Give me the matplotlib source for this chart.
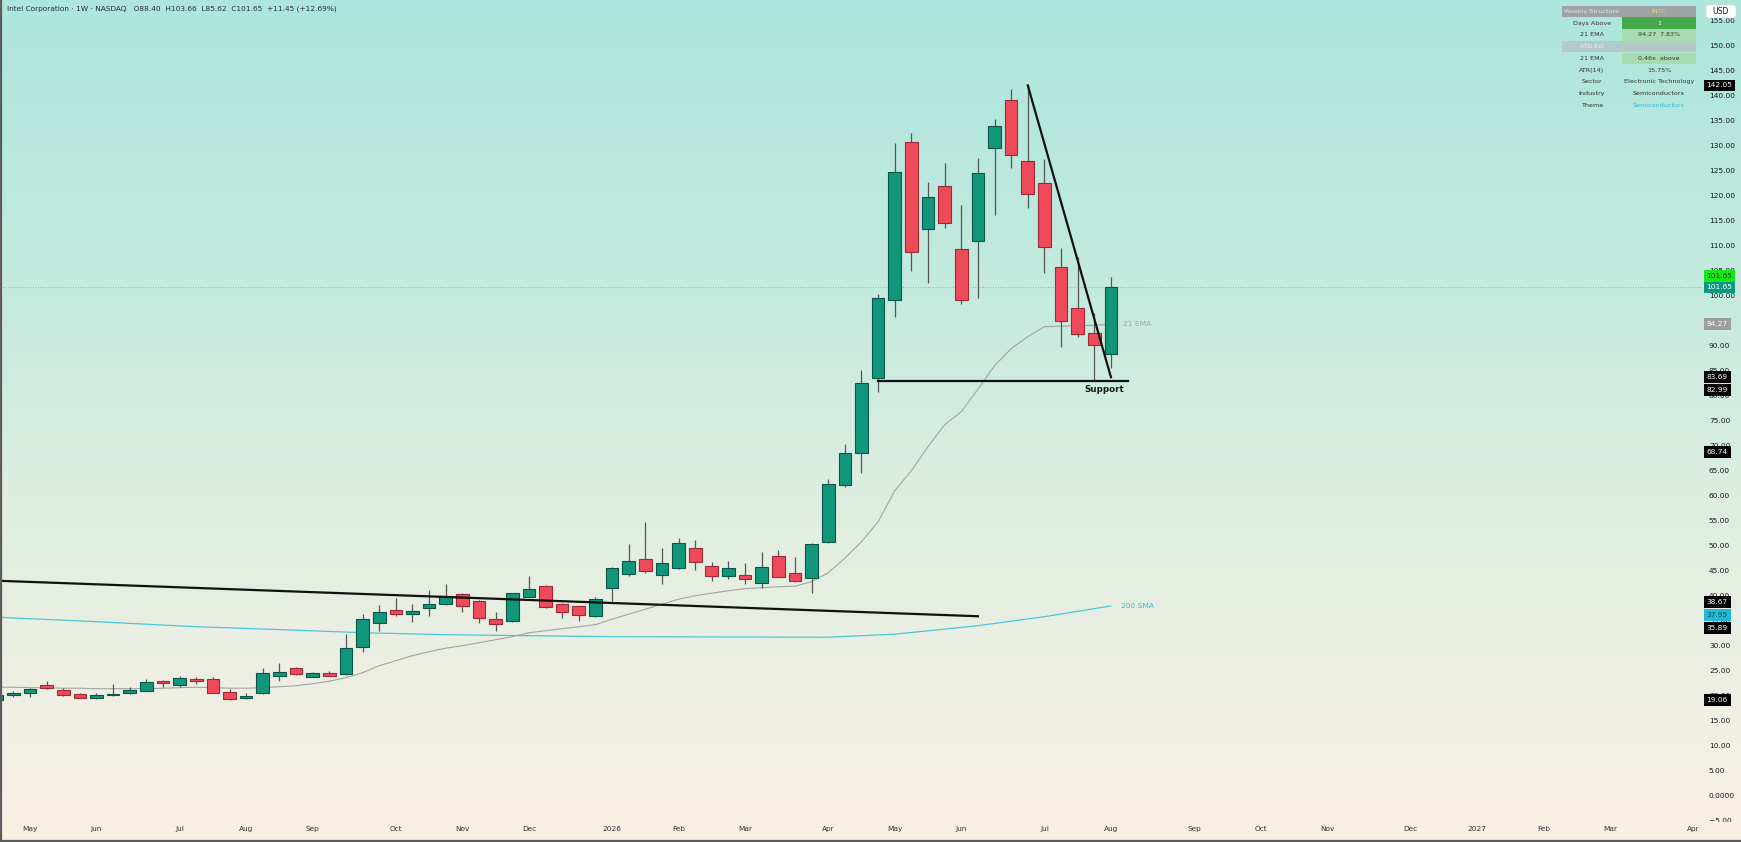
import numpy as np
import pandas as pd
import matplotlib
matplotlib.use('Agg')
import matplotlib.pyplot as plt
from matplotlib.patches import Rectangle, FancyBboxPatch
from matplotlib.transforms import Bbox, TransformedBbox, blended_transform_factory

plt.rcParams['font.family'] = ['DejaVu Sans']

W, H = 1741, 842

# ---- data (weekly candles, first bar = week of 2025-04-21) ----
first_week = '2025-04-21'
opens = [19.1, 20.1, 20.5, 22.1, 21.1, 20.4, 19.5, 20.2, 20.5, 21.0, 23.0, 22.1, 23.3, 23.3, 20.8, 19.5,
         20.5, 24.0, 25.5, 23.8, 24.5, 24.3, 29.7, 34.5, 37.1, 36.3, 37.5, 38.3, 40.3, 38.9, 35.4, 34.9,
         39.8, 41.9, 38.3, 37.9, 35.9, 41.6, 44.3, 47.3, 44.2, 45.5, 49.5, 45.9, 44.0, 44.1, 42.6, 47.9,
         44.5, 43.6, 50.8, 62.1, 68.5, 83.6, 99.1, 130.8, 113.3, 122.0, 109.3, 110.9, 129.5, 139.1,
         126.9, 122.5, 105.8, 97.5, 92.5, 88.40]
highs = [20.4, 21.0, 21.5, 22.9, 21.5, 20.6, 20.5, 22.3, 21.8, 23.3, 23.1, 23.9, 23.8, 23.8, 21.3, 20.5,
         25.5, 26.5, 25.7, 24.7, 24.9, 32.3, 36.3, 38.1, 39.5, 38.3, 41.1, 42.3, 40.5, 39.1, 36.7, 40.6,
         44.0, 42.1, 38.5, 38.0, 39.8, 45.7, 50.3, 54.7, 49.5, 51.5, 51.1, 46.7, 46.9, 46.5, 48.7, 49.1,
         47.8, 50.6, 63.3, 70.3, 85.1, 100.3, 130.5, 132.6, 122.7, 126.6, 118.1, 127.5, 135.3, 141.3,
         142.05, 127.3, 109.5, 107.8, 96.5, 103.66]
lows = [18.9, 19.7, 19.8, 21.4, 20.0, 19.5, 19.4, 20.0, 20.4, 20.9, 21.7, 21.8, 22.3, 20.5, 19.1, 19.4,
        20.4, 22.9, 24.1, 23.7, 23.9, 24.2, 28.8, 33.0, 36.0, 34.8, 36.0, 38.1, 36.7, 34.6, 33.0, 34.8,
        39.7, 37.6, 35.6, 35.0, 35.8, 39.0, 43.9, 44.5, 42.3, 45.4, 45.1, 42.9, 43.3, 42.3, 41.6, 43.7,
        42.8, 40.6, 50.5, 61.8, 64.6, 80.8, 95.7, 105.0, 102.5, 113.6, 98.3, 99.5, 116.1, 125.5,
        117.6, 104.5, 89.7, 91.7, 83.2, 85.62]
closes = [20.1, 20.6, 21.4, 21.6, 20.1, 19.6, 20.1, 20.3, 21.1, 22.7, 22.5, 23.5, 23.0, 20.6, 19.3, 19.9,
          24.5, 24.8, 24.3, 24.5, 24.0, 29.5, 35.3, 36.8, 36.3, 36.9, 38.3, 39.9, 38.0, 35.5, 34.4, 40.5,
          41.4, 37.8, 36.7, 36.1, 39.3, 45.5, 46.9, 45.0, 46.5, 50.5, 46.7, 44.0, 45.5, 43.3, 45.7, 43.8,
          43.0, 50.3, 62.3, 68.5, 82.5, 99.5, 124.7, 108.7, 119.8, 114.6, 99.1, 124.5, 133.9, 128.2,
          120.3, 109.8, 94.9, 92.3, 90.1, 101.65]
ema21 = [21.7, 21.7, 21.6, 21.6, 21.5, 21.5, 21.4, 21.4, 21.4, 21.4, 21.5, 21.6, 21.7, 21.6, 21.5, 21.5,
         21.6, 21.8, 22.0, 22.4, 22.9, 23.6, 24.6, 26.0, 27.0, 28.0,
         28.8, 29.5, 30.0, 30.6, 31.2, 31.8, 32.6, 33.0, 33.4, 33.8, 34.2, 35.3, 36.3, 37.3, 38.3, 39.3,
         40.0, 40.5, 41.0, 41.4, 41.6, 41.8, 41.9,
         42.8, 44.6, 47.5, 50.8, 54.8, 61.0, 65.0, 69.8, 74.2, 76.8, 81.3, 86.0, 89.4, 91.8, 93.8,
         93.9, 94.0, 94.1, 94.27]
sma_week = [0, 6, 12, 18, 22, 27, 37, 50, 54, 59, 63, 67]
sma200 = [35.7, 34.8, 33.8, 33.1, 32.6, 32.2, 31.8, 31.7, 32.3, 34.0, 35.8, 37.95]

resist_week = [0, 59]
resist_price = [43.0, 35.89]
fall_week = [62, 67]
fall_price = [142.05, 83.69]
support_week = [53, 68]
support_price = [82.99, 82.99]
last_price = 101.65

tag_values = [142.05, 101.65, 101.65, 94.27, 83.69, 82.99, 68.74, 38.67, 37.95, 35.89, 19.06]
tag_bg = ['#000000', '#19e619', '#089981', '#9e9e9e', '#000000', '#000000', '#000000',
          '#000000', '#22b8d8', '#000000', '#000000']
tag_fg = ['white', '#0b3d0b', 'white', 'white', 'white', 'white', 'white',
          'white', '#0b4655', 'white', 'white']
tag_shift = [0, 8.3, 0, 0, 0, -6.5, 0, 0, -6.5, -8.2, 0]

table_labels = ['Weekly Structure', 'Days Above', '21 EMA', 'ATR Ext', '21 EMA', 'ATR(14)',
                'Sector', 'Industry', 'Theme']
table_values = ['INTC', '1', '94.27  7.83%', '', '0.46x  above', '15.75%',
                'Electronic Technology', 'Semiconductors', 'Semiconductors']

title = 'Intel Corporation · 1W · NASDAQ   O88.40  H103.66  L85.62  C101.65  +11.45 (+12.69%)'

n = len(opens)
weeks = pd.date_range(first_week, periods=106, freq='7D')
idx = np.arange(n)
o = np.array(opens); c = np.array(closes); hi = np.array(highs); lo = np.array(lows)
up = c >= o

fig = plt.figure(figsize=(W / 100, H / 100), dpi=100)

# background gradient
bg = fig.add_axes([0, 0, 1, 1], zorder=-1)
stops = [0.0, 0.35, 0.62, 1.0]
cols = np.array([[172, 230, 220], [197, 234, 222], [224, 238, 225], [250, 240, 228]]) / 255
t = np.linspace(0, 1, 300)
grad = np.stack([np.interp(t, stops, cols[:, k]) for k in range(3)], axis=1)[:, None, :]
bg.imshow(grad, aspect='auto', extent=[0, 1, 0, 1], origin='upper')
bg.axis('off')

ax = fig.add_axes([0, 20 / H, 1702 / W, 822 / H])
ax.patch.set_alpha(0)
for s in ax.spines.values():
    s.set_visible(False)
ax.set_xlim(0.198, 102.54)
ax.set_ylim(-5.26, 159.14)

ax.axhline(last_price, color='#8a9e98', lw=0.6, ls=(0, (1, 2)), zorder=1)

# moving averages
ax.plot(idx, ema21, color='#a3a3a3', lw=0.8, zorder=2)
ax.plot(sma_week, sma200, color='#4cc6d8', lw=0.9, zorder=2)

# candles
ax.vlines(idx, lo, hi, color='#555555', lw=0.9, zorder=3)
body = np.maximum(np.abs(c - o), 0.12)
ax.bar(idx, body, bottom=np.minimum(o, c), width=0.76,
       color=np.where(up, '#12967a', '#ef4a5a'),
       edgecolor=np.where(up, '#0c5447', '#9c2a36'), linewidth=0.8, zorder=4)

# drawings
ax.plot(resist_week, resist_price, color='#111111', lw=1.6, zorder=5)
ax.plot(fall_week, fall_price, color='#111111', lw=1.6, zorder=5)
ax.plot(support_week, support_price, color='#111111', lw=1.6, zorder=5)
ax.text(66.6, 81.2, 'Support', ha='center', va='center', fontsize=6.3,
        fontweight='bold', color='#1a1a1a', zorder=6)
ax.text(67.7, ema21[-1], '21 EMA', ha='left', va='center', fontsize=5.4, color='#a0a8a6')
ax.text(67.6, sma200[-1], '200 SMA', ha='left', va='center', fontsize=5.4, color='#35bcd2')

# time axis
mt, ml = [], []
for i in range(1, len(weeks)):
    if weeks[i].month != weeks[i - 1].month:
        mt.append(i)
        ml.append(str(weeks[i].year) if weeks[i].month == 1 else weeks[i].strftime('%b'))
ax.set_xticks(mt, ml)
ax.tick_params(axis='x', length=0, pad=3.2, labelsize=5.3, labelcolor='#333333')

# price axis
ax.yaxis.tick_right()
yt = np.arange(0, 156, 5)
ax.set_yticks(yt, ['0.0000' if v == 0 else f'{v:.2f}' for v in yt])
ax.tick_params(axis='y', length=0, pad=5, labelsize=5.3, labelcolor='#131722')
tr = blended_transform_factory(ax.transAxes, ax.transData)
neg = ax.text(1.0, -5, '   −5.00', transform=tr, ha='left', va='center', fontsize=5.3,
              color='#131722')
neg.set_clip_box(TransformedBbox(Bbox([[0, 20 / H], [1, 1]]), fig.transFigure))
neg.set_clip_on(True)

for val, bgc, fgc, sh in zip(tag_values, tag_bg, tag_fg, tag_shift):
    ax.annotate(f'{val:.2f}', xy=(1, val), xycoords=('axes fraction', 'data'),
                xytext=(3.2, sh), textcoords='offset points', ha='left', va='center',
                fontsize=5.3, color=fgc, annotation_clip=False, zorder=8,
                bbox=dict(boxstyle='square,pad=0.4', fc=bgc, ec='none'))

# overlay in pixel coordinates: title, table, USD box, frame
ov = fig.add_axes([0, 0, 1, 1], zorder=5)
ov.set_xlim(0, W)
ov.set_ylim(H, 0)
ov.axis('off')
ov.patch.set_alpha(0)
ov.text(7, 9, title, ha='left', va='center', fontsize=5.3, color='#2a2e39')

left_bg = ['#9ea3a6', None, None, '#b3cbc6', None, None, None, None, None]
right_bg = ['#9ea3a6', '#45a94b', '#a6dcb0', '#b3cbc6', '#a6dcb0', None, None, None, None]
left_fg = ['#e2e4e4', '#333333', '#333333', '#e8eeee', '#333333', '#333333', '#333333', '#333333', '#333333']
right_fg = ['#f2d35a', 'white', '#333333', '#333333', '#333333', '#333333', '#333333', '#333333', '#2bbfd6']
x0, xm, x1 = 1562, 1622, 1696
row_top, row_h = 5.7, 11.7
for r, (lab, val) in enumerate(zip(table_labels, table_values)):
    y0 = row_top + r * row_h
    if left_bg[r]:
        ov.add_patch(Rectangle((x0, y0), xm - x0, row_h, fc=left_bg[r], ec='none'))
    if right_bg[r]:
        ov.add_patch(Rectangle((xm, y0), x1 - xm, row_h, fc=right_bg[r], ec='none'))
    ov.text((x0 + xm) / 2, y0 + row_h / 2, lab, ha='center', va='center', fontsize=4.6, color=left_fg[r])
    ov.text((xm + x1) / 2, y0 + row_h / 2, val, ha='center', va='center', fontsize=4.6, color=right_fg[r])

ov.add_patch(FancyBboxPatch((1706, 5), 30, 13, boxstyle='round,pad=0,rounding_size=2.5',
                            fc='white', ec='#d8d8d8', lw=0.5))
ov.text(1721, 11.5, 'USD', ha='center', va='center', fontsize=5.6, color='#131722')

ov.plot([1, 1], [0, H], color='#5c5c5c', lw=1.6)
ov.plot([0, W], [H - 1, H - 1], color='#5c5c5c', lw=1.6)

fig.savefig('out.png', dpi=100)
